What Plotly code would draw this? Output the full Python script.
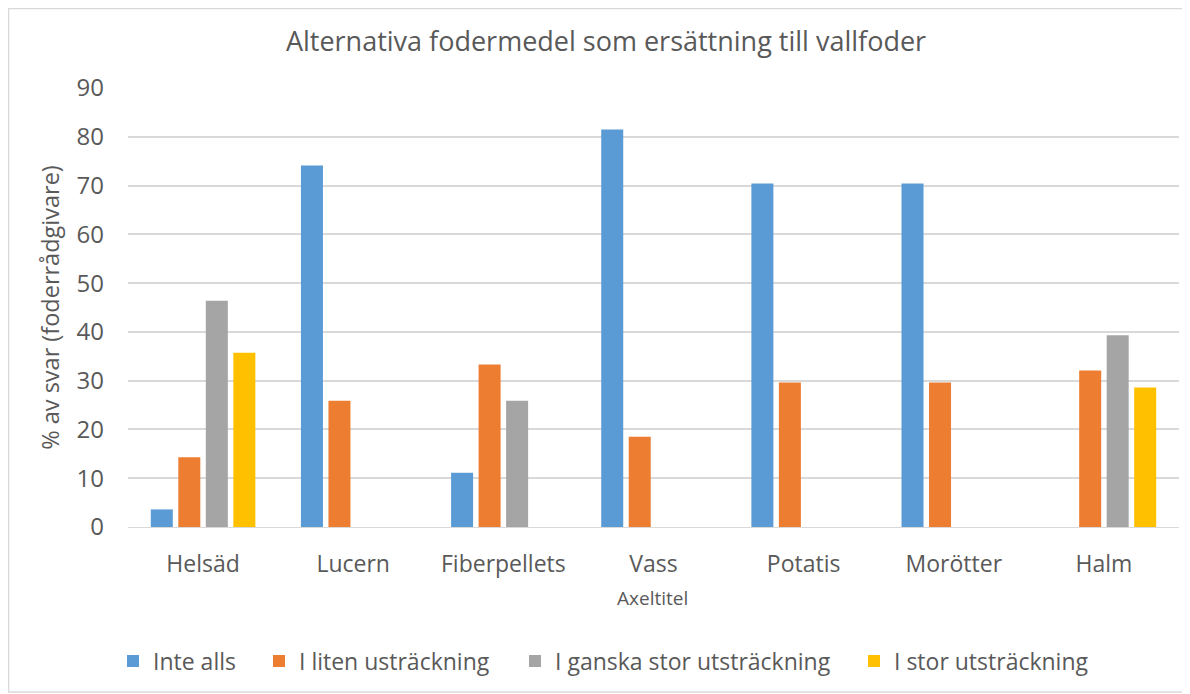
import plotly.graph_objects as go

categories = ["Helsäd", "Lucern", "Fiberpellets", "Vass", "Potatis", "Morötter", "Halm"]
series_names = ["Inte alls", "I liten usträckning", "I ganska stor utsträckning", "I stor utsträckning"]
inte_alls = [3.6, 74.1, 11.1, 81.5, 70.4, 70.4, None]
liten = [14.3, 25.9, 33.3, 18.5, 29.6, 29.6, 32.1]
ganska_stor = [46.4, None, 25.9, None, None, None, 39.3]
stor = [35.7, None, None, None, None, None, 28.6]
colors = ["#5B9BD5", "#ED7D31", "#A5A5A5", "#FFC000"]
y_ticks = [0, 10, 20, 30, 40, 50, 60, 70, 80, 90]

FONT = "Open Sans"
TXT = "#595959"

W, H = 1182, 686
L, R, T, B = 120, 11, 80, 167
PW, PH = W - L - R, H - T - B

legend_ids = ["legend", "legend2", "legend3", "legend4"]
legend_text_px = [147, 293, 549, 888]

fig = go.Figure()
for name, vals, col, lid in zip(series_names, [inte_alls, liten, ganska_stor, stor], colors, legend_ids):
    fig.add_trace(go.Bar(x=categories, y=vals, name=name, marker_color=col,
                         marker_line_width=0, legend=lid, showlegend=True))

legends = {}
for lid, tx in zip(legend_ids, legend_text_px):
    legends[lid] = dict(orientation="h", x=(tx - 42 - L) / PW, xanchor="left",
                        y=-(653 - 519) / PH, yanchor="middle",
                        font=dict(size=23, color=TXT), itemwidth=30,
                        bgcolor="rgba(0,0,0,0)", visible=True)

fig.update_layout(
    width=W, height=H, showlegend=True,
    paper_bgcolor="white", plot_bgcolor="white",
    barmode="group", bargap=0.267, bargroupgap=0.2,
    margin=dict(l=L, r=R, t=T, b=B),
    font=dict(family=FONT, color=TXT, size=22),
    title=dict(text="Alternativa fodermedel som ersättning till vallfoder",
               x=(606 - 8) / W, xanchor="center", y=1 - 34 / H, yanchor="middle",
               font=dict(family=FONT, size=27, color=TXT)),
    xaxis=dict(tickfont=dict(size=23, color=TXT), showline=True, linecolor="#D9D9D9",
               linewidth=1, ticks="", ticklabelstandoff=16),
    yaxis=dict(title=dict(text="% av svar (foderrådgivare)", font=dict(size=23.5, color=TXT), standoff=10),
               range=[0, 90], tickvals=y_ticks, tickfont=dict(size=24, color=TXT),
               showgrid=True, gridcolor="#D9D9D9", gridwidth=1.5, zeroline=False, ticks="",
               ticklabelstandoff=23),
    annotations=[dict(text="Axeltitel", xref="paper", yref="paper",
                      x=(644 - L) / PW, y=(519 - 590) / PH, xanchor="center", yanchor="middle",
                      showarrow=False, font=dict(size=19, color=TXT))],
    shapes=[dict(type="rect", xref="paper", yref="paper",
                 x0=(0.5 - L) / PW, x1=(1175 - L) / PW,
                 y0=(519 - 684) / PH, y1=(519 - 0.5) / PH,
                 line=dict(color="#D9D9D9", width=1.5), fillcolor="rgba(0,0,0,0)", layer="below")],
    **legends,
)

fig.write_html("out.html")
